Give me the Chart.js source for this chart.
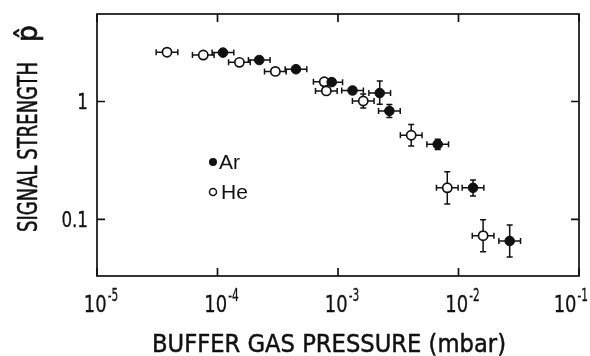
<!DOCTYPE html>
<html><head><meta charset="utf-8">
<script src="https://cdn.jsdelivr.net/npm/chart.js@4/dist/chart.umd.min.js"></script>
<style>html,body{margin:0;padding:0;background:#fff}#wrap{width:590px;height:356px}</style>
</head><body><div id="wrap"><canvas id="c" width="590" height="356"></canvas></div>
<script>
// ---- data ----
const heP = [3.81e-5, 7.62e-5, 1.52e-4, 3.02e-4, 7.69e-4, 8.0e-4, 1.62e-3, 4.05e-3, 8.07e-3, 1.60e-2];
const heS = [2.62, 2.48, 2.15, 1.80, 1.47, 1.23, 1.01, 0.517, 0.185, 0.0726];
const heSLo = [null, null, null, null, null, null, 0.88, 0.419, 0.135, 0.0531];
const heSHi = [null, null, null, null, null, null, 1.16, 0.638, 0.253, 0.0993];
const heXErr = [1.23, 1.23, 1.23, 1.23, 1.23, 1.23, 1.23, 1.23, 1.23, 1.23];

const arP = [1.11e-4, 2.22e-4, 4.48e-4, 8.87e-4, 1.32e-3, 2.22e-3, 2.67e-3, 6.72e-3, 1.32e-2, 2.66e-2];
const arS = [2.60, 2.25, 1.88, 1.46, 1.24, 1.18, 0.831, 0.433, 0.185, 0.0654];
const arSLo = [null, null, null, null, null, 0.946, 0.731, 0.392, 0.158, 0.0478];
const arSHi = [null, null, null, null, null, 1.49, 0.945, 0.478, 0.216, 0.0895];
const arXErr = [1.23, 1.23, 1.23, 1.23, 1.23, 1.23, 1.23, 1.23, 1.23, 1.23];

const xTickVals = [1e-5, 1e-4, 1e-3, 1e-2, 1e-1];
const xTickExp = ['-5', '-4', '-3', '-2', '-1'];
const yTickVals = [0.1, 1];
const yTickLabels = ['0.1', '1'];
const seriesNames = ['Ar', 'He'];
const xTitle = 'BUFFER GAS PRESSURE (mbar)';
const yTitle = 'SIGNAL STRENGTH';
const yTitleSym = 'p\u0302';

const INK = '#111';
const FONT = '"DejaVu Sans"';

function pts(xs, ys, lo, hi, xe) {
  return xs.map((x, i) => ({x: x, y: ys[i], lo: lo[i], hi: hi[i], xe: xe[i]}));
}

function condText(ctx, s, x, y, size, sx, align, baseline, family, bold) {
  ctx.save();
  ctx.font = size + 'px ' + (family || FONT);
  ctx.textAlign = align; ctx.textBaseline = baseline;
  ctx.translate(x, y); ctx.scale(sx, 1);
  ctx.fillStyle = INK; ctx.strokeStyle = INK;
  ctx.fillText(s, 0, 0);
  if (bold) { ctx.lineWidth = bold; ctx.lineJoin = 'round'; ctx.strokeText(s, 0, 0); }
  ctx.restore();
}
function textW(ctx, s, size, family) {
  ctx.save(); ctx.font = size + 'px ' + (family || FONT);
  const w = ctx.measureText(s).width; ctx.restore();
  return w;
}

const errorBars = {
  id: 'errorBars',
  beforeDatasetsDraw(chart) {
    const ctx = chart.ctx, xs = chart.scales.x, ys = chart.scales.y;
    ctx.save();
    ctx.strokeStyle = INK; ctx.lineWidth = 1.5;
    chart.data.datasets.forEach(ds => {
      ds.data.forEach(p => {
        const px = xs.getPixelForValue(p.x), py = ys.getPixelForValue(p.y);
        const xl = xs.getPixelForValue(p.x / p.xe), xh = xs.getPixelForValue(p.x * p.xe);
        ctx.beginPath();
        ctx.moveTo(xl, py); ctx.lineTo(xh, py);
        ctx.moveTo(xl, py - 3); ctx.lineTo(xl, py + 3);
        ctx.moveTo(xh, py - 3); ctx.lineTo(xh, py + 3);
        if (p.lo != null) {
          const yl = ys.getPixelForValue(p.lo), yh = ys.getPixelForValue(p.hi);
          ctx.moveTo(px, yl); ctx.lineTo(px, yh);
          ctx.moveTo(px - 3, yl); ctx.lineTo(px + 3, yl);
          ctx.moveTo(px - 3, yh); ctx.lineTo(px + 3, yh);
        }
        ctx.stroke();
      });
    });
    ctx.restore();
  }
};

const frame = {
  id: 'frame',
  afterDraw(chart) {
    const ctx = chart.ctx, a = chart.chartArea, xs = chart.scales.x, ys = chart.scales.y;
    ctx.save();
    ctx.strokeStyle = INK; ctx.fillStyle = INK; ctx.lineWidth = 1.7;
    ctx.strokeRect(a.left, a.top, a.right - a.left, a.bottom - a.top);
    ctx.beginPath();
    xTickVals.forEach(v => {
      const px = xs.getPixelForValue(v);
      ctx.moveTo(px, a.bottom); ctx.lineTo(px, a.bottom - 8);
      ctx.moveTo(px, a.top); ctx.lineTo(px, a.top + 8);
    });
    yTickVals.forEach(v => {
      const py = ys.getPixelForValue(v);
      ctx.moveTo(a.left, py); ctx.lineTo(a.left + 8, py);
      ctx.moveTo(a.right, py); ctx.lineTo(a.right - 8, py);
    });
    ctx.stroke();

    // x tick labels: 10 with superscript exponent
    const bs = 23, bsx = 0.78, es = 17, esx = 0.62;
    xTickVals.forEach((v, i) => {
      const px = xs.getPixelForValue(v);
      const wb = textW(ctx, '10', bs) * bsx;
      const we = textW(ctx, xTickExp[i], es) * esx;
      const total = wb + 1 + we;
      let left = px - total / 2 + 4;
      if (left + total > 588) left = 588 - total;
      condText(ctx, '10', left, a.bottom + 36, bs, bsx, 'left', 'alphabetic', null, 0.3);
      condText(ctx, xTickExp[i], left + wb + 1, a.bottom + 25, es, esx, 'left', 'alphabetic', null, 0.3);
    });
    // y tick labels
    yTickVals.forEach((v, i) => {
      const py = ys.getPixelForValue(v);
      condText(ctx, yTickLabels[i], a.left - 9, py + 8, 22, 0.76, 'right', 'alphabetic', null, 0.3);
    });

    // x title
    const sxT = 354 / textW(ctx, xTitle, 25);
    condText(ctx, xTitle, 329, 352, 25, sxT, 'center', 'alphabetic', null, 0.5);

    // y title (rotated)
    ctx.save();
    ctx.translate(37, 232); ctx.rotate(-Math.PI / 2);
    const syT = 170 / textW(ctx, yTitle, 27);
    condText(ctx, yTitle, 0, 0, 27, syT, 'left', 'alphabetic', null, 0.5);
    condText(ctx, yTitleSym, 190, 0, 28, 0.95, 'left', 'alphabetic', null, 0.7);
    ctx.restore();

    // legend
    ctx.lineWidth = 1.5;
    ctx.beginPath(); ctx.arc(213, 162, 4, 0, Math.PI * 2); ctx.fill();
    ctx.fillStyle = '#fff';
    ctx.beginPath(); ctx.arc(213, 192, 3.5, 0, Math.PI * 2); ctx.fill(); ctx.stroke();
    ctx.fillStyle = INK;
    condText(ctx, seriesNames[0], 219, 169, 21, 1, 'left', 'alphabetic', '"Liberation Sans"', 0);
    condText(ctx, seriesNames[1], 221, 199, 21, 1, 'left', 'alphabetic', '"Liberation Sans"', 0);
    ctx.restore();
  }
};

new Chart(document.getElementById('c'), {
  type: 'scatter',
  data: {
    datasets: [
      {label: seriesNames[0], data: pts(arP, arS, arSLo, arSHi, arXErr),
       pointRadius: 4.8, pointHoverRadius: 4.8, backgroundColor: INK, borderColor: INK, borderWidth: 1},
      {label: seriesNames[1], data: pts(heP, heS, heSLo, heSHi, heXErr),
       pointRadius: 4.6, pointHoverRadius: 4.6, backgroundColor: '#fff', borderColor: INK, borderWidth: 1.7}
    ]
  },
  options: {
    responsive: false, animation: false, devicePixelRatio: 1,
    layout: {padding: {left: 97, right: 11, top: 14, bottom: 80}},
    plugins: {legend: {display: false}, tooltip: {enabled: false}},
    scales: {
      x: {type: 'logarithmic', min: 1e-5, max: 1e-1,
          ticks: {display: false}, grid: {display: false, drawTicks: false}, border: {display: false}, title: {display: false}},
      y: {type: 'logarithmic', min: 0.033, max: 5.53,
          ticks: {display: false}, grid: {display: false, drawTicks: false}, border: {display: false}, title: {display: false}}
    }
  },
  plugins: [errorBars, frame]
});
</script>
</body></html>
